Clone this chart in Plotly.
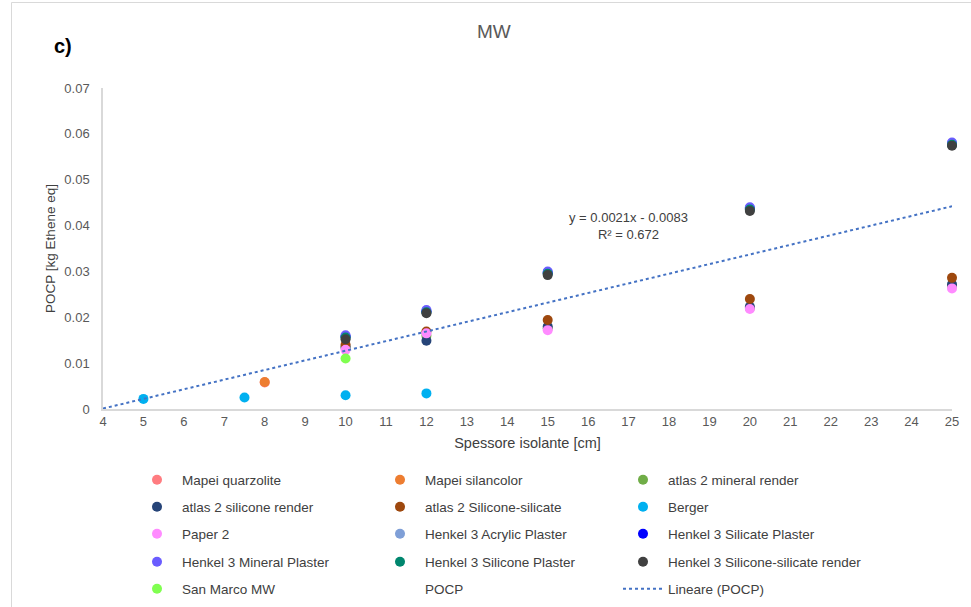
import plotly.graph_objects as go

# ---- data -------------------------------------------------------------
thick = [10, 12, 15, 20, 25]

mapei_quarzolite_x = [8]
mapei_quarzolite_y = [0.0058]
mapei_silancolor_x = [8]
mapei_silancolor_y = [0.0059]
atlas_mineral_y = [0.0133, 0.0160, 0.0176, 0.0220, 0.0268]
atlas_silicone_y = [0.0136, 0.0149, 0.0180, 0.0223, 0.0272]
atlas_silsil_y = [0.0140, 0.0169, 0.0194, 0.0240, 0.0286]
berger_x = [5, 7.5, 10, 12]
berger_y = [0.0022, 0.0025, 0.0030, 0.0034]
paper2_y = [0.0129, 0.0165, 0.0172, 0.0218, 0.0263]
henkel_acrylic_y = [0.0157, 0.0212, 0.0296, 0.0436, 0.0577]
henkel_silicate_y = [0.0158, 0.0213, 0.0297, 0.0437, 0.0578]
henkel_mineral_y = [0.0161, 0.0216, 0.0300, 0.0440, 0.0581]
henkel_silicone_y = [0.0156, 0.0211, 0.0295, 0.0435, 0.0576]
henkel_silsil_y = [0.0152, 0.0209, 0.0292, 0.0432, 0.0574]
san_marco_x = [10]
san_marco_y = [0.0110]

# linear trend as stated in the label
slope = 0.0021
intercept = -0.0083
trend_x = [4, 25]

x_ticks = list(range(4, 26))
y_ticks = [0, 0.01, 0.02, 0.03, 0.04, 0.05, 0.06, 0.07]
y_tick_text = ["0", "0.01", "0.02", "0.03", "0.04", "0.05", "0.06", "0.07"]

# ---- layout helpers ---------------------------------------------------
W, H = 971, 607
L, R, T, B = 103, 19, 88, 198
PW, PH = W - L - R, H - T - B


def px_x(p):
    return (p - L) / PW


def px_y(p):
    return (H - B - p) / PH


# (name, x, y, colour, legend row, column)
series = [
    ("Mapei quarzolite", mapei_quarzolite_x, mapei_quarzolite_y, "#FF7C80", "legend", 0),
    ("Mapei silancolor", mapei_silancolor_x, mapei_silancolor_y, "#ED7D31", "legend", 1),
    ("atlas 2 mineral render", thick, atlas_mineral_y, "#70AD47", "legend", 2),
    ("atlas 2 silicone render", thick, atlas_silicone_y, "#264478", "legend2", 0),
    ("atlas 2 Silicone-silicate", thick, atlas_silsil_y, "#9E480E", "legend2", 1),
    ("Berger", berger_x, berger_y, "#00B0F0", "legend2", 2),
    ("Paper 2", thick, paper2_y, "#FF8BFF", "legend3", 0),
    ("Henkel 3 Acrylic Plaster", thick, henkel_acrylic_y, "#7F9FD7", "legend3", 1),
    ("Henkel 3 Silicate Plaster", thick, henkel_silicate_y, "#0000FF", "legend3", 2),
    ("Henkel 3 Mineral Plaster", thick, henkel_mineral_y, "#6A5CFF", "legend4", 0),
    ("Henkel 3 Silicone Plaster", thick, henkel_silicone_y, "#00866E", "legend4", 1),
    ("Henkel 3 Silicone-silicate render", thick, henkel_silsil_y, "#404040", "legend4", 2),
    ("San Marco MW", san_marco_x, san_marco_y, "#80FF50", "legend5", 0),
]

ENTRY_W = 188
LAST_COL_W = 260

fig = go.Figure()
all_x, all_y = [], []
for name, xs, ys, col, leg, c in series:
    all_x += list(xs)
    all_y += list(ys)
    fig.add_trace(go.Scatter(
        x=xs, y=ys, mode="markers", name=name, legend=leg,
        legendwidth=LAST_COL_W if c == 2 else ENTRY_W,
        marker=dict(color=col, size=10, line=dict(width=0)),
        cliponaxis=False,
    ))

# combined series (no markers shown)
fig.add_trace(go.Scatter(
    x=all_x, y=all_y, mode="markers", name="POCP", legend="legend5",
    legendwidth=ENTRY_W,
    marker=dict(color="rgba(0,0,0,0)", size=10), hoverinfo="skip",
))

fig.add_trace(go.Scatter(
    x=trend_x, y=[slope * v + intercept for v in trend_x],
    mode="lines", name="Lineare (POCP)", legend="legend5",
    legendwidth=LAST_COL_W,
    line=dict(color="#4472C4", width=2, dash="dot"),
    cliponaxis=False,
))

FONT = "Liberation Sans"
TXT = "#595959"

legend_rows = [480, 507, 534, 562, 589]
legend_common = dict(
    orientation="h", xanchor="left", yanchor="middle",
    x=px_x(132), bgcolor="rgba(0,0,0,0)", itemwidth=40,
    font=dict(family=FONT, size=13.5, color="#404040"),
)

fig.update_layout(
    width=W, height=H,
    margin=dict(l=L, r=R, t=T, b=B, autoexpand=False),
    paper_bgcolor="white", plot_bgcolor="white",
    font=dict(family=FONT, color=TXT),
    showlegend=True,
    legend=dict(**legend_common, y=px_y(legend_rows[0])),
    legend2=dict(**legend_common, y=px_y(legend_rows[1])),
    legend3=dict(**legend_common, y=px_y(legend_rows[2])),
    legend4=dict(**legend_common, y=px_y(legend_rows[3])),
    legend5=dict(**legend_common, y=px_y(legend_rows[4])),
    xaxis=dict(
        range=[4, 25], tickvals=x_ticks, showgrid=False, zeroline=False,
        showline=True, linecolor="#D9D9D9", linewidth=1.5, ticks="",
        tickfont=dict(family=FONT, size=13, color=TXT),
        title=dict(text="Spessore isolante [cm]", standoff=10,
                   font=dict(family=FONT, size=14.5, color="#404040")),
    ),
    yaxis=dict(
        range=[0, 0.07], tickvals=y_ticks, ticktext=y_tick_text,
        showgrid=False, zeroline=False,
        showline=True, linecolor="#D9D9D9", linewidth=1.5, ticks="",
        ticklabelstandoff=9,
        tickfont=dict(family=FONT, size=13, color=TXT),
        title=dict(text="POCP [kg Ethene eq]", standoff=6,
                   font=dict(family=FONT, size=13.5, color="#404040")),
    ),
    annotations=[
        dict(text="MW", xref="paper", yref="paper", x=px_x(494), y=px_y(31),
             showarrow=False, xanchor="center", yanchor="middle",
             font=dict(family=FONT, size=19, color=TXT)),
        dict(text="<b>c)</b>", xref="paper", yref="paper", x=px_x(52), y=px_y(46),
             showarrow=False, xanchor="left", yanchor="middle",
             font=dict(family=FONT, size=20, color="black")),
        dict(text="y = 0.0021x - 0.0083<br>R² = 0.672", xref="paper", yref="paper",
             x=px_x(628), y=px_y(226), showarrow=False,
             xanchor="center", yanchor="middle", align="center",
             font=dict(family=FONT, size=13, color="#404040")),
    ],
    shapes=[
        dict(type="rect", xref="paper", yref="paper",
             x0=px_x(11.5), x1=px_x(1200), y0=px_y(900), y1=px_y(2.5),
             line=dict(color="#D9D9D9", width=1), fillcolor="rgba(0,0,0,0)",
             layer="below"),
    ],
)

fig.write_html("out.html")
